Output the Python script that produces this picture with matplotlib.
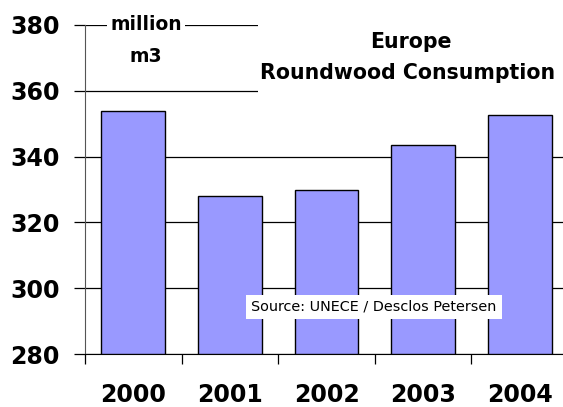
import matplotlib
matplotlib.use("Agg")
import matplotlib.pyplot as plt

years = ["2000", "2001", "2002", "2003", "2004"]
consumption = [354, 328, 330, 343.5, 352.5]
yticks = [280, 300, 320, 340, 360, 380]

plt.rcParams['font.family'] = ['DejaVu Sans']

fig = plt.figure(figsize=(5.63, 4.07), dpi=100)
ax = fig.add_axes([85/563, 1-354/407, 483/563, 329/407])

x = list(range(len(years)))
ax.bar(x, [v - 280 for v in consumption], bottom=280, width=0.66,
       color='#9999FF', edgecolor='black', linewidth=1.0, zorder=3)

ax.set_ylim(280, 380)
ax.set_xlim(-0.5, 4.5)
ax.set_yticks(yticks)
ax.set_yticklabels([str(t) for t in yticks], fontsize=17, fontweight='bold')
ax.yaxis.grid(True, color='black', linewidth=0.9, zorder=0)
ax.tick_params(axis='y', length=8, width=0.9, color='black', pad=10)

ax.set_xticks([i + 0.5 for i in range(-1, 5)])
ax.set_xticklabels([])
ax.set_xticks(x, minor=True)
ax.set_xticklabels(years, minor=True, fontsize=17, fontweight='bold')
ax.tick_params(axis='x', which='major', length=7, width=0.9, direction='out')
ax.tick_params(axis='x', which='minor', length=0, pad=21)

for s in ['top', 'right']:
    ax.spines[s].set_visible(False)
ax.spines['left'].set_color('#555555')
ax.spines['bottom'].set_color('black')
ax.set_axisbelow(True)

fig.text(146/563, 1-25/407, "million", ha='center', va='center', fontsize=13.5,
         fontweight='bold', bbox=dict(facecolor='white', edgecolor='none', pad=2))
fig.text(146/563, 1-56/407, "m3", ha='center', va='center', fontsize=13.5,
         fontweight='bold')

fig.patches.append(plt.Rectangle((258/563, 1-95/407), 305/563, 75/407,
                                 transform=fig.transFigure, facecolor='white',
                                 edgecolor='none', zorder=5))
fig.text(411/563, 1-42/407, "Europe", ha='center', va='center', fontsize=14.8,
         fontweight='bold', zorder=6)
fig.text(408/563, 1-73/407, "Roundwood Consumption", ha='center', va='center',
         fontsize=14.8, fontweight='bold', zorder=6)

fig.text(374/563, 1-307/407, "Source: UNECE / Desclos Petersen", ha='center',
         va='center', fontsize=10.4,
         bbox=dict(facecolor='white', edgecolor='none', pad=3.8))

fig.savefig("out.png", dpi=100)
